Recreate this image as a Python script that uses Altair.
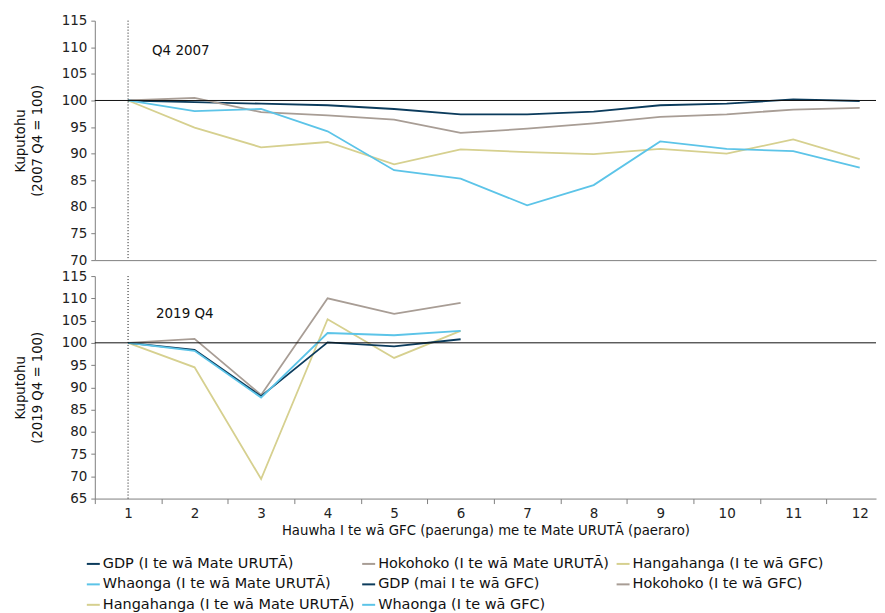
import altair as alt
import pandas as pd

# ---------------- data ----------------
quarters_gfc = [1, 2, 3, 4, 5, 6, 7, 8, 9, 10, 11, 12]
quarters_cov = [1, 2, 3, 4, 5, 6]
x_ticks = [1, 2, 3, 4, 5, 6, 7, 8, 9, 10, 11, 12]

gdp_gfc = [100, 99.7, 99.4, 99.1, 98.4, 97.4, 97.4, 97.9, 99.1, 99.4, 100.2, 99.9]
hoko_gfc = [100, 100.5, 97.8, 97.2, 96.4, 93.9, 94.7, 95.7, 96.9, 97.4, 98.3, 98.6]
hanga_gfc = [100, 94.9, 91.2, 92.2, 88.0, 90.8, 90.3, 89.9, 90.9, 90.0, 92.7, 89.0]
whao_gfc = [100, 98.0, 98.4, 94.2, 86.9, 85.3, 80.3, 84.1, 92.3, 90.9, 90.5, 87.4]

gdp_cov = [100, 98.4, 88.0, 100.1, 99.2, 100.8]
hoko_cov = [100, 100.9, 88.3, 110.0, 106.5, 109.0]
hanga_cov = [100, 94.5, 69.4, 105.3, 96.6, 102.7]
whao_cov = [100, 98.2, 87.7, 102.2, 101.7, 102.7]

n_gdp_cov = "GDP (I te wā Mate URUTĀ)"
n_hoko_cov = "Hokohoko (I te wā Mate URUTĀ)"
n_hanga_gfc = "Hangahanga (I te wā GFC)"
n_whao_cov = "Whaonga (I te wā Mate URUTĀ)"
n_gdp_gfc = "GDP (mai I te wā GFC)"
n_hoko_gfc = "Hokohoko (I te wā GFC)"
n_hanga_cov = "Hangahanga (I te wā Mate URUTĀ)"
n_whao_gfc = "Whaonga (I te wā GFC)"

legend_order = [n_gdp_cov, n_hoko_cov, n_hanga_gfc, n_whao_cov,
                n_gdp_gfc, n_hoko_gfc, n_hanga_cov, n_whao_gfc]
NAVY, TAUPE, KHAKI, BLUE = "#0B3B5C", "#A89D95", "#D6D08F", "#5CC4E8"
legend_colors = [NAVY, TAUPE, KHAKI, BLUE, NAVY, TAUPE, KHAKI, BLUE]

series = [
    ("gfc", n_gdp_gfc, quarters_gfc, gdp_gfc),
    ("gfc", n_hoko_gfc, quarters_gfc, hoko_gfc),
    ("gfc", n_hanga_gfc, quarters_gfc, hanga_gfc),
    ("gfc", n_whao_gfc, quarters_gfc, whao_gfc),
    ("cov", n_hanga_cov, quarters_cov, hanga_cov),
    ("cov", n_hoko_cov, quarters_cov, hoko_cov),
    ("cov", n_gdp_cov, quarters_cov, gdp_cov),
    ("cov", n_whao_cov, quarters_cov, whao_cov),
]
rows = []
for panel, name, qs, vals in series:
    for q, v in zip(qs, vals):
        rows.append({"panel": panel, "series": name, "q": q, "v": v})
df = pd.DataFrame(rows)

FONT = "DejaVu Sans"
AX = "#7f7f7f"
X_DOMAIN = [0.5, 12.245]
axis_values = sorted([k - 0.5 for k in x_ticks] + x_ticks)

color = alt.Color(
    "series:N",
    scale=alt.Scale(domain=legend_order, range=legend_colors),
    legend=alt.Legend(
        title="", orient="none", columns=3, direction="horizontal",
        legendX=-9, legendY=537,
        symbolType="stroke", symbolSize=169, symbolStrokeWidth=2,
        labelFontSize=14.5, labelFont=FONT, labelColor="#111", labelLimit=0,
        columnPadding=3, rowPadding=5.5, labelOffset=2,
    ),
)


def make_panel(key, ydom, ytitle, note, note_v, note_dx, height, bottom):
    xscale = alt.Scale(domain=X_DOMAIN, nice=False, zero=False)
    if bottom:
        xaxis = alt.Axis(
            title="Hauwha I te wā GFC (paerunga) me te Mate URUTĀ (paeraro)",
            values=axis_values, grid=False,
            labelExpr="datum.value % 1 === 0 ? format(datum.value, 'd') : ''",
            tickOpacity={"condition": {"test": "datum.value % 1 === 0", "value": 0}, "value": 1},
            labelOverlap=False, labelFlush=False,
            tickSize=5, labelPadding=3, titlePadding=4,
            domainColor=AX, tickColor=AX, labelFontSize=13.5, titleFontSize=13.3,
            titleFontWeight="normal", labelColor="#222", titleColor="#111")
    else:
        xaxis = alt.Axis(title="", labels=False, ticks=False, grid=False, domainColor=AX)
    yaxis = alt.Axis(title=ytitle, values=list(range(ydom[0], ydom[1] + 1, 5)),
                     grid=False, tickSize=4, labelPadding=4, titlePadding=17,
                     labelOverlap=False, labelFlush=False,
                     domainColor=AX, tickColor=AX, labelFontSize=13.5,
                     titleFontSize=13.3, titleFontWeight="normal", titleLineHeight=17,
                     labelColor="#222", titleColor="#111")
    yscale = alt.Scale(domain=list(ydom), nice=False, zero=False)

    xenc = alt.X("q:Q", scale=xscale, axis=xaxis)
    yenc = alt.Y("v:Q", scale=yscale, axis=yaxis)

    lines = alt.Chart(df).transform_filter(alt.datum.panel == key).mark_line(
        strokeWidth=1.8
    ).encode(x=xenc, y=yenc, color=color, detail="series:N")
    base100 = alt.Chart(pd.DataFrame({"v": [100]})).mark_rule(
        color="#111", strokeWidth=1
    ).encode(y=yenc)
    vline = alt.Chart(pd.DataFrame({"q": [1]})).mark_rule(
        color="#111", strokeWidth=1, strokeDash=[1, 2]
    ).encode(x=xenc)
    label = alt.Chart(pd.DataFrame({"q": [1], "v": [note_v], "t": [note]})).mark_text(
        align="left", dx=note_dx, fontSize=13.5, font=FONT, color="#111"
    ).encode(x=xenc, y=yenc, text="t:N")
    return alt.layer(lines, base100, vline, label).properties(width=783, height=height)


top = make_panel("gfc", (70, 115), ["Kuputohu", "(2007 Q4 = 100)"], "Q4 2007", 109.3, 24, 240, False)
bottom = make_panel("cov", (65, 115), ["Kuputohu", "(2019 Q4 = 100)"], "2019 Q4", 106.5, 28, 223, True)

chart = alt.vconcat(top, bottom, spacing=1).resolve_scale(
    color="shared"
).properties(
    padding={"left": 4, "top": 4, "right": 0, "bottom": 0}
).configure(font=FONT).configure_view(stroke="transparent")

chart.save("out.html", embed_options={"renderer": "svg", "actions": False})
